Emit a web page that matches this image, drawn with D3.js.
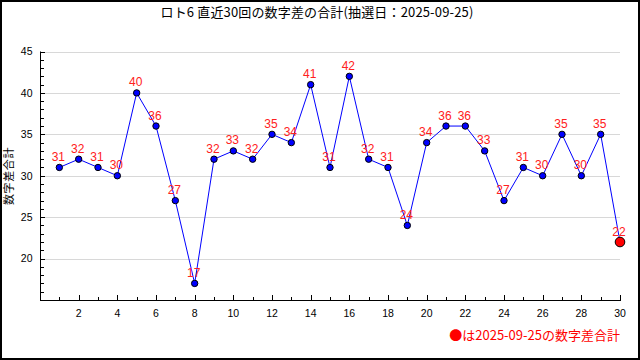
<!DOCTYPE html>
<html><head><meta charset="utf-8">
<script src="https://cdn.jsdelivr.net/npm/d3@7/dist/d3.min.js"></script>
<style>body{margin:0;background:#fff}svg{display:block}</style>
</head><body>
<svg id="c" width="640" height="360"></svg>
<script>
const titleText = "ロト6 直近30回の数字差の合計(抽選日：2025-09-25)";
const yTitle = "数字差合計";
const legendText = "●は2025-09-25の数字差合計";
const draws = d3.range(1, 31);
const values = [31,32,31,30,40,36,27,17,32,33,32,35,34,41,31,42,32,31,24,34,36,36,33,27,31,30,35,30,35,22];
const yMajor = [20,25,30,35,40,45];
const xLabels = [2,4,6,8,10,12,14,16,18,20,22,24,26,28,30];

const svg = d3.select("#c");
const W = 640, H = 360;
const x = d3.scaleLinear().domain([0, 30]).range([40, 620]);
const y = d3.scaleLinear().domain([15, 45]).range([300, 51.5]);
const numFont = "'Liberation Sans', Arial, sans-serif";
const cjkFont = "'Noto Sans CJK JP', sans-serif";

svg.append("rect").attr("x",1).attr("y",1).attr("width",W-2).attr("height",H-2)
  .attr("fill","#fff").attr("stroke","#000").attr("stroke-width",2);

// title
svg.append("text").attr("x",317).attr("y",17).attr("text-anchor","middle")
  .attr("font-family",cjkFont).attr("font-size",13).attr("letter-spacing",0.15).attr("fill","#000").text(titleText);

// grid
svg.append("g").selectAll("line").data(yMajor).join("line")
  .attr("x1",x(0)).attr("x2",x(30)).attr("y1",d=>Math.round(y(d))+0.5).attr("y2",d=>Math.round(y(d))+0.5)
  .attr("stroke","#d8d8d8").attr("stroke-width",1);

// y axis
const yAxis = svg.append("g").attr("transform",`translate(${x(0)},0)`);
yAxis.append("line").attr("x1",0.5).attr("x2",0.5).attr("y1",y(45)).attr("y2",y(15)).attr("stroke","#000");
yAxis.selectAll("line.t").data(d3.range(16,46)).join("line").attr("class","t")
  .attr("x1",0).attr("x2",d=>d%5===0?5:4)
  .attr("y1",d=>Math.round(y(d))+0.5).attr("y2",d=>Math.round(y(d))+0.5).attr("stroke","#000");
yAxis.selectAll("text").data(yMajor).join("text")
  .attr("x",-7.5).attr("y",d=>y(d)).attr("dy","0.36em").attr("text-anchor","end")
  .attr("font-family",numFont).attr("font-size",10.5).attr("fill","#000").text(d=>d);

// x axis
const xAxis = svg.append("g").attr("transform",`translate(0,${y(15)})`);
xAxis.append("line").attr("x1",x(0)).attr("x2",x(30)+1).attr("y1",0.5).attr("y2",0.5).attr("stroke","#000");
xAxis.selectAll("line.t").data(draws).join("line").attr("class","t")
  .attr("x1",d=>Math.round(x(d))+0.5).attr("x2",d=>Math.round(x(d))+0.5)
  .attr("y1",0).attr("y2",d=>d%2===0?-5:-3).attr("stroke","#000");
xAxis.selectAll("text").data(xLabels).join("text")
  .attr("x",d=>x(d)).attr("y",16.5).attr("text-anchor","middle")
  .attr("font-family",numFont).attr("font-size",10.5).attr("fill","#000").text(d=>d);

// y title
svg.append("text").attr("transform",`translate(12.5,176) rotate(-90)`).attr("text-anchor","middle")
  .attr("font-family",cjkFont).attr("font-size",11).attr("letter-spacing",0.6).attr("fill","#000").text(yTitle);

// line
const line = d3.line().x((d,i)=>x(draws[i])).y(d=>y(d));
svg.append("path").datum(values).attr("d",line).attr("fill","none").attr("stroke","#0000ff").attr("stroke-width",1);

// points
svg.append("g").selectAll("circle").data(values).join("circle")
  .attr("cx",(d,i)=>x(draws[i])).attr("cy",d=>y(d))
  .attr("r",(d,i)=>i===values.length-1?4.8:3.2)
  .attr("fill",(d,i)=>i===values.length-1?"#ff0000":"#0000ff")
  .attr("stroke","#000").attr("stroke-width",1);

// value labels
svg.append("g").selectAll("text").data(values).join("text")
  .attr("x",(d,i)=>x(draws[i])-1).attr("y",d=>y(d)-6.5).attr("text-anchor","middle")
  .attr("font-family",numFont).attr("font-size",12).attr("fill","#ff2020").text(d=>d);

// legend
svg.append("text").attr("x",620).attr("y",340).attr("text-anchor","end")
  .attr("font-family",cjkFont).attr("font-size",13).attr("fill","#ff0000").text(legendText);
</script>
</body></html>
